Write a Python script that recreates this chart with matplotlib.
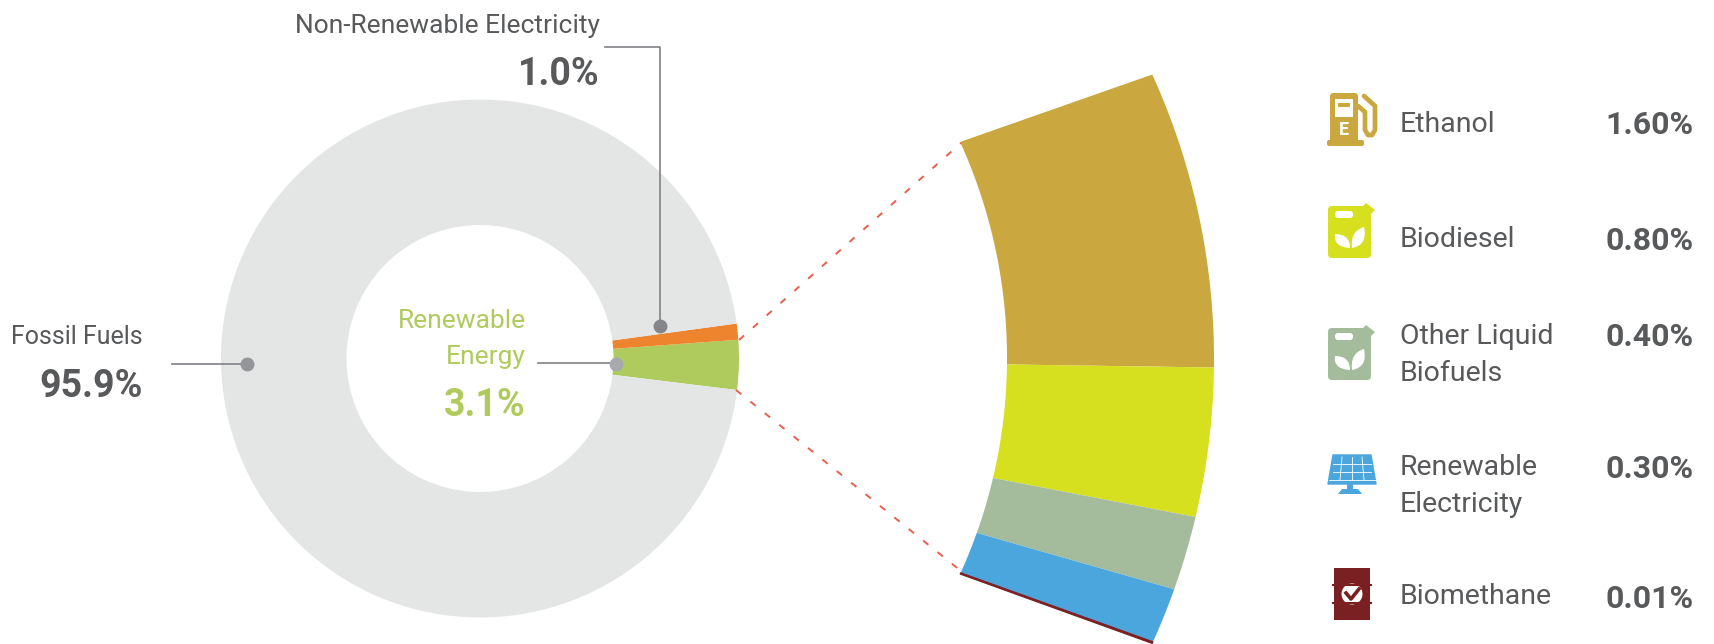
import numpy as np
import matplotlib
matplotlib.use('Agg')
import matplotlib.pyplot as plt
from matplotlib.patches import FancyBboxPatch, Polygon, Circle, PathPatch, Rectangle
from matplotlib.path import Path

plt.rcParams['font.family'] = ['Roboto', 'Liberation Sans', 'DejaVu Sans']

# ring: renewable, non-renewable, fossil
ring_names = ['Renewable Energy', 'Non-Renewable Electricity', 'Fossil Fuels']
ring_values = [3.1, 1.0, 95.9]
ring_colors = ['#AFCB5E', '#EE842E', '#E4E6E5']

# breakdown of renewable share
fan_names = ['Ethanol', 'Biodiesel', 'Other Liquid\nBiofuels', 'Renewable\nElectricity', 'Biomethane']
fan_values = [1.60, 0.80, 0.40, 0.30, 0.01]
fan_labels = ['1.60%', '0.80%', '0.40%', '0.30%', '0.01%']
fan_colors = ['#CBA73F', '#D6E01F', '#A5BC9C', '#4BA6DE', '#7A1F22']

TEXT = '#58595B'
FAN_HALF = 24.5  # degrees either side of the fan middle

fig = plt.figure(figsize=(17.15, 6.44), dpi=100)
ax = fig.add_axes([0, 0, 1, 1])

# the y axis points down, so pixel positions can be read straight off the picture
ax.pie(ring_values, colors=ring_colors, startangle=7.0, counterclock=False,
       center=(480, 358.5), radius=259, wedgeprops={'width': 125.5, 'linewidth': 0})

ax.set_xlim(0, 1715)
ax.set_ylim(644, 0)
ax.set_aspect('auto')
ax.axis('off')

# inner and outer edge of the fan are arcs of two different circles
edges = np.cumsum([0] + fan_values) / sum(fan_values)
for i, col in enumerate(fan_colors):
    t = np.radians(-FAN_HALF + 2 * FAN_HALF * np.linspace(edges[i], edges[i + 1], 40))
    xs = np.r_[528 + 686 * np.cos(t), (486 + 521 * np.cos(t))[::-1]]
    ys = np.r_[359 + 686 * np.sin(t), (358 + 521 * np.sin(t))[::-1]]
    ax.fill(xs, ys, color=col, lw=0.8 if i == 4 else 0)

# dashed lines to the fan
ax.plot([739, 961], [340, 143], color='#E8604C', lw=1.4, dashes=(3.5, 6))
ax.plot([736, 961], [390, 571], color='#E8604C', lw=1.4, dashes=(3.5, 6))

# leaders
ax.plot([605, 660, 660], [47, 47, 326], color='#808285', lw=1.2)
ax.plot([172, 247], [364, 364], color='#808285', lw=1.2)
ax.plot([538, 616], [363, 363], color='#808285', lw=1.2)
ax.plot([660], [326], 'o', ms=10, color='#858689', mew=0)
ax.plot([247], [364], 'o', ms=10, color='#939598', mew=0)
ax.plot([616], [364], 'o', ms=10, color='#A7A9AC', mew=0)

# labels round the ring
ax.text(600, 26, 'Non-Renewable Electricity', ha='right', va='center', fontsize=19, color=TEXT)
ax.text(600, 74, '1.0%', ha='right', va='center', fontsize=27, color=TEXT, fontweight='bold')
ax.text(143, 337, 'Fossil Fuels', ha='right', va='center', fontsize=18, color=TEXT)
ax.text(143, 386, '95.9%', ha='right', va='center', fontsize=27, color=TEXT, fontweight='bold')
ax.text(526, 321, 'Renewable', ha='right', va='center', fontsize=19, color='#AFCB5E')
ax.text(526, 357, 'Energy', ha='right', va='center', fontsize=19, color='#AFCB5E')
ax.text(526, 405, '3.1%', ha='right', va='center', fontsize=27, color='#AFCB5E', fontweight='bold')

# legend text
name_y = [124, 239, 355, 486, 596]
value_y = [125, 241, 337, 469, 599]
for name, lab, ny, vy in zip(fan_names, fan_labels, name_y, value_y):
    ax.text(1400, ny, name, ha='left', va='center', fontsize=20.5, color=TEXT, linespacing=1.5)
    ax.text(1694, vy, lab, ha='right', va='center', fontsize=23, color=TEXT, fontweight='bold')


def rbox(x0, y0, x1, y1, color, r=3):
    ax.add_patch(FancyBboxPatch((x0 + r, y0 + r), x1 - x0 - 2 * r, y1 - y0 - 2 * r,
                                boxstyle='round,pad=%g' % r, fc=color, ec='none'))


def leaf(x0, y0, x1, y1, cx0, cy0, cx1, cy1):
    verts = [(x0, y0), (cx0, cy0), (x1, y1), (cx1, cy1), (x0, y0)]
    codes = [Path.MOVETO, Path.CURVE3, Path.CURVE3, Path.CURVE3, Path.CURVE3]
    ax.add_patch(PathPatch(Path(verts, codes), fc='white', ec='none'))


def can(top, color):
    rbox(1328, top + 3, 1371, top + 55, color, r=4)
    ax.add_patch(Polygon([(1362, top + 4), (1366, top), (1375, top + 7), (1371, top + 11), (1366, top + 9)],
                         fc=color, ec='none'))
    rbox(1335, top + 8, 1353, top + 15, 'white', r=3)
    leaf(1350, top + 45, 1335, top + 31, 1333, top + 44, 1350, top + 31)
    leaf(1352, top + 45, 1364, top + 24, 1368, top + 42, 1350, top + 28)


# pump
gold = fan_colors[0]
rbox(1330, 93, 1358, 142, gold, r=3)
rbox(1327, 140, 1364, 146, gold, r=2)
ax.add_patch(Rectangle((1335, 99), 18, 18, fc='white', ec='none'))
ax.add_patch(Rectangle((1338, 103), 12, 4, fc=gold, ec='none'))
ax.add_patch(Rectangle((1335, 109), 18, 8, fc='white', ec='none'))
ax.text(1344, 130, 'E', ha='center', va='center', fontsize=13, color='white', fontweight='bold')
ax.plot([1364, 1375, 1375, 1372, 1368, 1365, 1365, 1358], [96, 106, 130, 135, 135, 130, 112, 106],
        color=gold, lw=3.4, solid_capstyle='round')

# cans
can(203, fan_colors[1])
can(325, fan_colors[2])

# solar panel
blue = fan_colors[3]
ax.add_patch(Polygon([(1333, 455), (1371, 455), (1376, 484), (1328, 484)], fc=blue, ec=blue, lw=1, joinstyle='round'))
for yy in [464, 472]:
    ax.plot([1333, 1371], [yy, yy], color='white', lw=0.6)
for xa, xb in [(1342, 1340), (1352, 1352), (1362, 1364)]:
    ax.plot([xa, xb], [457, 480], color='white', lw=0.6)
ax.plot([1329, 1375], [480, 480], color='white', lw=0.6)
ax.add_patch(Rectangle((1347, 484), 6, 6, fc=blue, ec='none'))
ax.add_patch(Polygon([(1342, 489), (1358, 489), (1362, 494), (1338, 494)], fc=blue, ec='none'))

# barrel
red = fan_colors[4]
ax.add_patch(Rectangle((1334, 568), 36, 52, fc=red, ec='none'))
for yy in [585, 603]:
    ax.plot([1333, 1371], [yy, yy], color=red, lw=1.5)
ax.add_patch(Circle((1352, 594), 10.5, fc='white', ec='none'))
ax.plot([1346, 1351, 1359], [593, 599, 589], color=red, lw=2.6)

fig.savefig('out.png', dpi=100, facecolor='white')
